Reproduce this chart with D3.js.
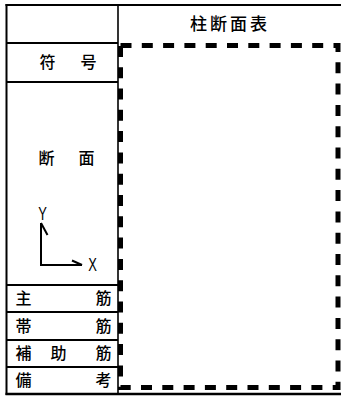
<!DOCTYPE html>
<html><head><meta charset="utf-8">
<script src="https://cdn.jsdelivr.net/npm/d3@7"></script>
<style>html,body{margin:0;padding:0;background:#fff}svg{display:block}</style>
</head><body>
<script>
const title = "柱断面表";
const rowNames = ["header", "符号", "断面", "主筋", "帯筋", "補助筋", "備考"];
const rowLabels = [[], ["符", "号"], ["断", "面"], ["主", "筋"], ["帯", "筋"], ["補", "助", "筋"], ["備", "考"]];
const axisLabels = ["Y", "X"];

const W = 341, H = 396;
const svg = d3.select("body").append("svg").attr("width", W).attr("height", H);
const font = "'Noto Sans CJK JP', 'Noto Sans', sans-serif";

// row boundaries (px)
const rowEdges = [5, 43, 82, 285, 312, 340, 367, 394];
const y = d3.scaleOrdinal().domain(rowNames).range(rowNames.map((d, i) => (rowEdges[i] + rowEdges[i + 1]) / 2));
const xL = 6.5, xD = 118, xR = 341;

// outer lines
svg.append("line").attr("x1", xL - 1).attr("x2", xR).attr("y1", 5).attr("y2", 5).attr("stroke", "#000").attr("stroke-width", 2);
svg.append("line").attr("x1", xL - 1).attr("x2", xR).attr("y1", 394).attr("y2", 394).attr("stroke", "#000").attr("stroke-width", 2.5);
svg.append("line").attr("x1", xL).attr("x2", xL).attr("y1", 4).attr("y2", 395).attr("stroke", "#000").attr("stroke-width", 2);
svg.append("line").attr("x1", xD).attr("x2", xD).attr("y1", 4).attr("y2", 395).attr("stroke", "#000").attr("stroke-width", 1.6);

// row lines on left
svg.selectAll("line.row").data(rowEdges.slice(1, -1)).enter().append("line").attr("class", "row")
  .attr("x1", xL).attr("x2", xD).attr("y1", d => d).attr("y2", d => d)
  .attr("stroke", "#000").attr("stroke-width", 1.8);

// title
svg.append("text").attr("x", 230).attr("y", y("header")).attr("dy", "0.36em")
  .attr("text-anchor", "middle").attr("font-family", font).attr("font-size", 17).attr("font-weight", 500)
  .attr("letter-spacing", 3).text(title);

// labels
rowLabels.forEach((chars, i) => {
  if (!chars.length) return;
  let xs;
  if (i <= 2) xs = [47.5 - (i === 2 ? 1 : 0), 88.5 - (i === 2 ? 2 : 0)];
  else if (chars.length === 3) xs = [23.5, 58.5, 103.5];
  else xs = [23.5, 103.5];
  let cy = y(rowNames[i]);
  if (i === 2) cy = 158;
  chars.forEach((c, j) => {
    svg.append("text").attr("x", xs[j]).attr("y", cy).attr("dy", "0.36em")
      .attr("text-anchor", "middle").attr("font-family", font).attr("font-size", 16)
      .attr("font-weight", 500).text(c);
  });
});

// axis symbol
const ax = svg.append("g").attr("stroke", "#000").attr("stroke-width", 2).attr("fill", "none");
ax.append("path").attr("d", "M41,223 L41,265 L82,265");
ax.append("path").attr("d", "M41,223 L47.5,235");
ax.append("path").attr("d", "M82,265 L72,260.5");
const axFont = "'Liberation Sans', 'DejaVu Sans', sans-serif";
[[axisLabels[0], 42.5, 220], [axisLabels[1], 92.5, 270.5]].forEach(([t, x, yy]) => {
  svg.append("text").attr("transform", `translate(${x},${yy}) scale(0.72,1)`)
    .attr("text-anchor", "middle").attr("font-family", axFont).attr("font-size", 18).text(t);
});

// dashed section frame
svg.append("rect").attr("x", 120.5).attr("y", 45.5).attr("width", 217.5).attr("height", 342)
  .attr("fill", "none").attr("stroke", "#000").attr("stroke-width", 5)
  .attr("stroke-dasharray", "11 10.3");
</script>
</body></html>
